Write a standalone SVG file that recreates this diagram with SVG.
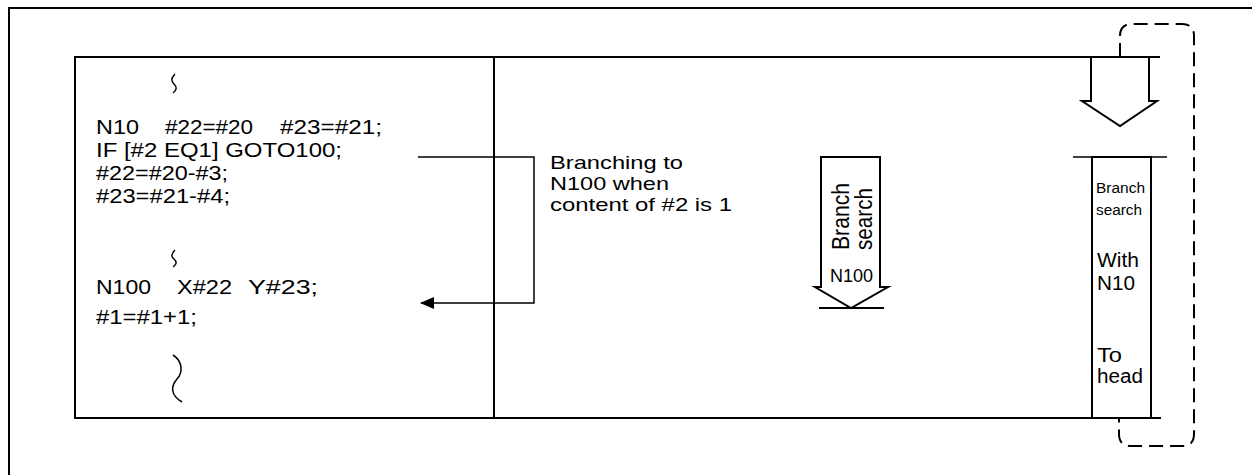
<svg xmlns="http://www.w3.org/2000/svg" width="1252" height="475" viewBox="0 0 1252 475">
<style>
  .t { font-family: "Liberation Sans", Arial, sans-serif; fill: #000; }
  .code { font-size: 20px; }
  .lbl { font-size: 19px; }
  .ln { stroke: #000; stroke-width: 2; fill: none; }
  .thin { stroke: #000; stroke-width: 1.5; fill: none; }
  .arrow { stroke: #000; stroke-width: 2; fill: #fff; stroke-linejoin: miter; }
  .dash { stroke: #000; stroke-width: 2; fill: none; stroke-dasharray: 14 7; }
</style>
<defs>
  <marker id="ah" viewBox="0 0 14 12" refX="13" refY="6" markerWidth="14" markerHeight="12" markerUnits="userSpaceOnUse" orient="auto">
    <path d="M0,0 L14,6 L0,12 Z" fill="#000"/>
  </marker>
</defs>
<rect width="1252" height="475" fill="#fff"/>
<g id="frame">
  <rect x="9" y="8" width="1300" height="520" class="ln"/>
</g>
<g id="program">
  <rect x="75" y="57" width="419" height="361" class="ln"/>
  <path class="thin" d="M175,74 C171,78 171,81 174,84 C177,87 177,90 173,93"/>
  <text class="t code" x="96" y="134" textLength="43" lengthAdjust="spacingAndGlyphs">N10</text>
  <text class="t code" x="165" y="134" textLength="88" lengthAdjust="spacingAndGlyphs">#22=#20</text>
  <text class="t code" x="280" y="134" textLength="102" lengthAdjust="spacingAndGlyphs">#23=#21;</text>
  <text class="t code" x="96" y="157" textLength="246" lengthAdjust="spacingAndGlyphs">IF [#2 EQ1] GOTO100;</text>
  <text class="t code" x="96" y="180" textLength="132" lengthAdjust="spacingAndGlyphs">#22=#20-#3;</text>
  <text class="t code" x="96" y="203" textLength="134" lengthAdjust="spacingAndGlyphs">#23=#21-#4;</text>
  <path class="thin" d="M175,250 C171,254 171,257 174,259 C177,262 177,264 173,267"/>
  <text class="t code" x="96" y="294" textLength="55" lengthAdjust="spacingAndGlyphs">N100</text>
  <text class="t code" x="177" y="294" textLength="55" lengthAdjust="spacingAndGlyphs">X#22</text>
  <text class="t code" x="248" y="294" textLength="70" lengthAdjust="spacingAndGlyphs">Y#23;</text>
  <text class="t code" x="96" y="324" textLength="101" lengthAdjust="spacingAndGlyphs">#1=#1+1;</text>
  <path class="thin" d="M173,355 C184,362 182,374 177,379 C171,386 170,395 182,402"/>
</g>
<g id="search-area">
  <path class="ln" d="M494,57 H1160 M494,418 H1161"/>
</g>
<g id="branch-label">
  <text class="t lbl" x="550" y="169" textLength="133" lengthAdjust="spacingAndGlyphs">Branching to</text>
  <text class="t lbl" x="550" y="190" textLength="119" lengthAdjust="spacingAndGlyphs">N100 when</text>
  <text class="t lbl" x="550" y="211" textLength="182" lengthAdjust="spacingAndGlyphs">content of #2 is 1</text>
</g>
<g id="branch-search-arrow">
  <polygon class="arrow" points="821,157 880,157 880,287 888,287 851,308 815,287 821,287"/>
  <line class="ln" x1="819" y1="308" x2="884" y2="308"/>
  <text class="t lbl" transform="translate(849,250) scale(1.25,1) rotate(-90)" textLength="67" lengthAdjust="spacingAndGlyphs">Branch</text>
  <text class="t lbl" transform="translate(872,250) scale(1.25,1) rotate(-90)" textLength="62" lengthAdjust="spacingAndGlyphs">search</text>
  <text class="t lbl" x="830" y="282" textLength="43" lengthAdjust="spacingAndGlyphs">N100</text>
</g>
<g id="head-arrow">
  <polygon class="arrow" points="1091,57 1149,57 1149,101 1157,101 1120,126 1082,101 1091,101"/>
</g>
<g id="search-box">
  <line class="thin" x1="1073" y1="157" x2="1167" y2="157"/>
  <rect x="1092" y="157" width="59" height="261" class="ln" fill="#fff"/>
  <text class="t" style="font-size:14px" x="1096" y="193" textLength="49" lengthAdjust="spacingAndGlyphs">Branch</text>
  <text class="t" style="font-size:14px" x="1096" y="215" textLength="46" lengthAdjust="spacingAndGlyphs">search</text>
  <text class="t code" x="1097" y="267" textLength="42" lengthAdjust="spacingAndGlyphs">With</text>
  <text class="t code" x="1097" y="290" textLength="38" lengthAdjust="spacingAndGlyphs">N10</text>
  <text class="t code" x="1097" y="362" textLength="25" lengthAdjust="spacingAndGlyphs">To</text>
  <text class="t code" x="1097" y="383" textLength="46" lengthAdjust="spacingAndGlyphs">head</text>
</g>
<g id="connectors">
  <path class="thin" d="M418,157 H534 V303 H421" marker-end="url(#ah)"/>
  <path class="dash" d="M1120,57 V36 Q1120,24 1132,24 H1182 Q1194,24 1194,36 V434 Q1194,446 1182,446 H1131 Q1119,446 1119,434 V419"/>
</g>
</svg>
